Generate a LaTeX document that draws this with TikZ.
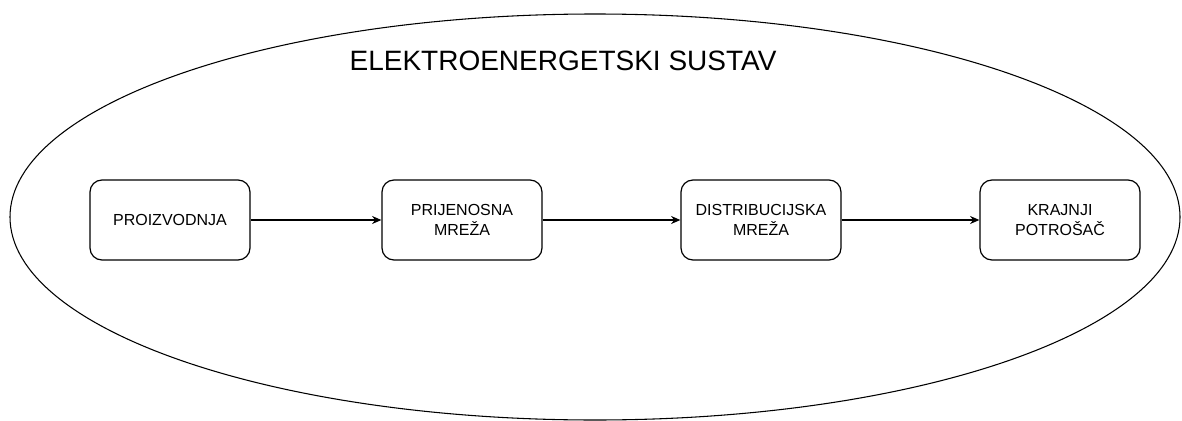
\documentclass[tikz,border=0pt]{standalone}
\usepackage{fontspec}
\setmainfont{Liberation Sans}
\usetikzlibrary{shapes.geometric, arrows.meta}

\begin{document}
\begin{tikzpicture}[x=0.75pt, y=-0.75pt]
  \tikzset{
    system_ellipse/.style={
      ellipse, draw, line width=0.8pt, minimum width=877.5pt, minimum height=304.5pt, inner sep=0pt
    },
    stage_box/.style={
      rectangle, draw, rounded corners=9pt, line width=0.9pt, minimum width=120pt, minimum height=60pt,
      inner sep=0pt, align=center, font=\fontsize{12}{15}\selectfont
    },
    flow_arrow/.style={-{Stealth[length=7pt, width=6pt]}, line width=0.9pt}
  }
  \useasboundingbox (0,0) rectangle (1182,421);

  % Draw the surrounding ellipse and its title
  \node[system_ellipse] (system) at (595,217) {};
  \node[font=\fontsize{21}{25}\selectfont, anchor=base] (title) at (563,70) {ELEKTROENERGETSKI SUSTAV};

  % Draw the row of stages
  \foreach \name/\xpos/\txt in {prod/170/PROIZVODNJA, trans/462/{PRIJENOSNA\\MREŽA},
                                dist/761/{DISTRIBUCIJSKA\\MREŽA}, cons/1060/{KRAJNJI\\POTROŠAČ}} {
    \node[stage_box] (\name) at (\xpos,220) {\txt};
  }

  % Connect each stage to the next one
  \foreach \from/\to in {prod/trans, trans/dist, dist/cons} {
    \draw[flow_arrow] (\from) -- (\to);
  }

\end{tikzpicture}
\end{document}
